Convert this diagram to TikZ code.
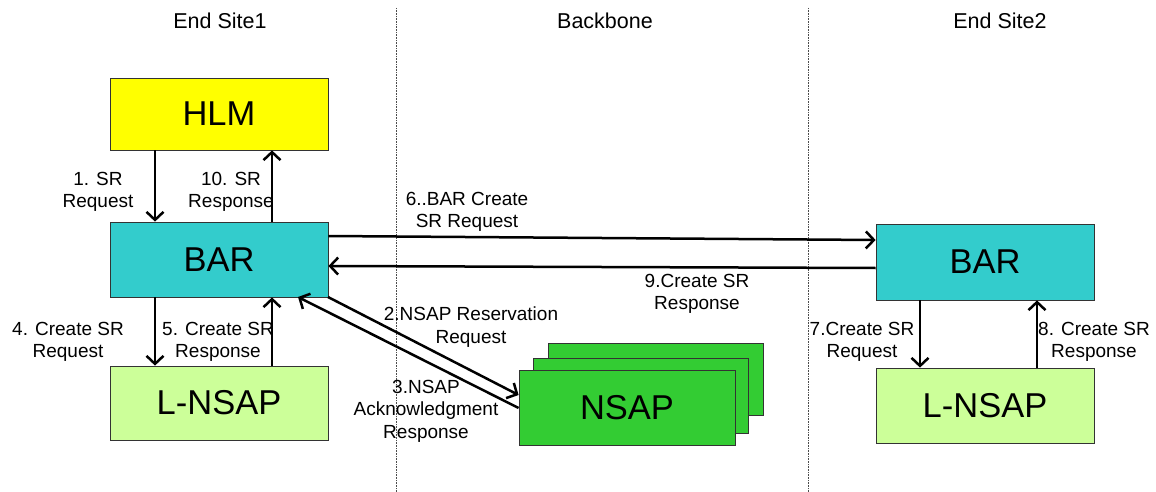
\documentclass[tikz,border=0pt]{standalone}
\usepackage{fontspec}
\setmainfont{Liberation Sans}
\usetikzlibrary{arrows.meta}
\definecolor{hlm}{HTML}{FFFF00}
\definecolor{bar}{HTML}{33CCCC}
\definecolor{lnsap}{HTML}{CCFF99}
\definecolor{nsap}{HTML}{33CC33}
\tikzset{
  box/.style={draw=black!80, line width=0.8pt, minimum width=218pt, inner sep=0pt, font=\fontsize{34.5}{38}\selectfont},
  lbl/.style={font=\fontsize{19}{22.5}\selectfont, align=center, inner sep=0pt},
  hdr/.style={font=\fontsize{21.5}{24}\selectfont, inner sep=0pt},
  arr/.style={line width=2.5pt, -{Straight Barb[length=8pt,width=17pt,line width=2.5pt]}},
  sep/.style={densely dotted, line width=0.6pt, black!70}
}
\begin{document}
\begin{tikzpicture}[x=1pt,y=-1pt]
\useasboundingbox (0,0) rectangle (1156,492);
% separators
\coordinate (s1t) at (396,8); \coordinate (s1b) at (396,492);
\coordinate (s2t) at (808,8); \coordinate (s2b) at (808,492);
\draw[sep] (s1t) -- (s1b);
\draw[sep] (s2t) -- (s2b);
% headers
\node[hdr] (h1) at (220,21) {End Site1};
\node[hdr] (h2) at (605,21) {Backbone};
\node[hdr] (h3) at (1000,21) {End Site2};
% boxes
\node[box, fill=hlm, minimum height=72pt] (hlm) at (219,114) {HLM};
\node[box, fill=bar, minimum height=75pt] (barl) at (219,259.5) {BAR};
\node[box, fill=lnsap, minimum height=74pt] (lnl) at (219,403) {L-NSAP};
\node[box, fill=bar, minimum height=76pt] (barr) at (985,262) {BAR};
\node[box, fill=lnsap, minimum height=75pt] (lnr) at (985,405.5) {L-NSAP};
\node[box, fill=nsap, minimum width=215pt, minimum height=72pt] (n3) at (655.5,379) {};
\node[box, fill=nsap, minimum width=215pt, minimum height=75pt] (n2) at (640.5,395.5) {};
\node[box, fill=nsap, minimum width=216pt, minimum height=75pt] (n1) at (627,408) {NSAP};
% vertical arrows left
\draw[arr] (hlm.south -| 155,0) -- (barl.north -| 155,0);
\draw[arr] (barl.north -| 272,0) -- (hlm.south -| 272,0);
\draw[arr] (barl.south -| 155,0) -- (lnl.north -| 155,0);
\draw[arr] (lnl.north -| 272,0) -- (barl.south -| 272,0);
% vertical arrows right
\draw[arr] (barr.south -| 920,0) -- (lnr.north -| 920,0);
\draw[arr] (lnr.north -| 1037,0) -- (barr.south -| 1037,0);
% horizontal
\draw[arr] (barl.east |- 0,236) -- (barr.west |- 0,240);
\draw[arr] (barr.west |- 0,268) -- (barl.east |- 0,266);
% diagonal
\coordinate (a2s) at (328,297);
\coordinate (a3e) at (298,297);
\draw[arr] (a2s) -- (n1.west |- 0,395);
\draw[arr] (n1.west |- 0,408) -- (a3e);
% labels
\node[lbl] (l1) at (98,192) {1. SR\\Request};
\node[lbl] (l10) at (231,192) {10. SR\\Response};
\node[lbl] (l4) at (68,342) {4. Create SR\\Request};
\node[lbl] (l5) at (218,342) {5. Create SR\\Response};
\node[lbl] (l6) at (467,212) {6..BAR Create\\SR Request};
\node[lbl] (l9) at (697,294) {9.Create SR\\Response};
\node[lbl] (l2) at (471,327) {2.NSAP Reservation\\Request};
\node[lbl] (l3) at (426,411) {3.NSAP\\Acknowledgment\\Response};
\node[lbl] (l7) at (862,342) {7.Create SR\\Request};
\node[lbl] (l8) at (1094,342) {8. Create SR\\Response};
\end{tikzpicture}
\end{document}
